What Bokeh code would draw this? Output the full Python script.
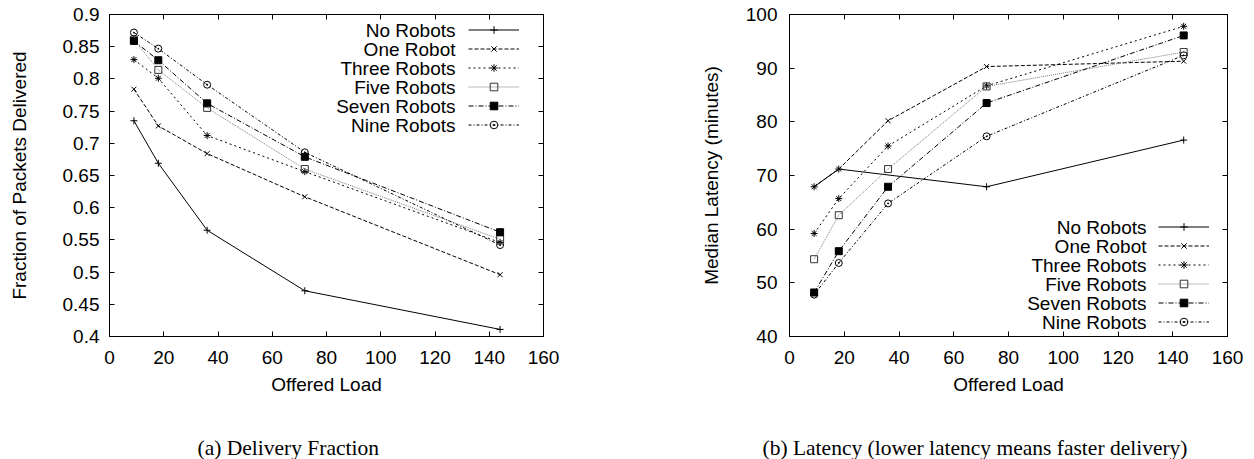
from bokeh.plotting import figure
from bokeh.layouts import row, column
from bokeh.models import (Range1d, LinearAxis, FixedTicker, CustomJSTickFormatter,
                          Legend, LegendItem, Label)
from bokeh.embed import file_html
from bokeh.resources import INLINE

# ---------------- data ----------------
offered_load = [9, 18, 36, 72, 144]
series_names = ["No Robots", "One Robot", "Three Robots", "Five Robots", "Seven Robots", "Nine Robots"]

# (a) delivery fraction
delivery_no_robots = [0.735, 0.669, 0.565, 0.471, 0.411]
delivery_one_robot = [0.784, 0.727, 0.684, 0.617, 0.496]
delivery_three_robots = [0.830, 0.801, 0.712, 0.656, 0.546]
delivery_five_robots = [0.861, 0.814, 0.755, 0.660, 0.551]
delivery_seven_robots = [0.859, 0.829, 0.762, 0.679, 0.562]
delivery_nine_robots = [0.872, 0.847, 0.791, 0.686, 0.542]

# (b) median latency (minutes)
latency_no_robots_load = [9, 18, 72, 144]
latency_no_robots = [67.9, 71.2, 67.9, 76.6]
latency_one_robot = [67.9, 71.2, 80.2, 90.3, 91.3]
latency_three_robots = [59.2, 65.7, 75.5, 86.7, 97.8]
latency_five_robots = [54.4, 62.6, 71.2, 86.6, 93.0]
latency_seven_robots = [48.2, 55.9, 67.9, 83.5, 96.1]
latency_nine_robots = [47.8, 53.7, 64.8, 77.3, 92.4]

x_ticks = [0, 20, 40, 60, 80, 100, 120, 140, 160]
delivery_ticks = [0.4, 0.45, 0.5, 0.55, 0.6, 0.65, 0.7, 0.75, 0.8, 0.85, 0.9]
latency_ticks = [40, 50, 60, 70, 80, 90, 100]

caption_a = "(a) Delivery Fraction"
caption_b = "(b) Latency (lower latency means faster delivery)"

# ---------------- styles ----------------
SANS = "Liberation Sans"
SERIF = "Liberation Serif"
FS = "19px"
MAIN_H = 406
CAP_H = 53

STYLES = [
    dict(color="black", dash="solid", marker="cross", fill=None, mcolor="black"),
    dict(color="black", dash="4 2", marker="x", fill=None, mcolor="black"),
    dict(color="black", dash="2 3", marker="asterisk", fill=None, mcolor="black"),
    dict(color="#7a7a7a", dash="1 1", marker="square", fill=None, mcolor="#333333"),
    dict(color="black", dash="5 2 1 2", marker="square", fill="black", mcolor="black"),
    dict(color="black", dash="3 2 1 2", marker="circle_dot", fill=None, mcolor="black"),
]


def style_axis(ax, standoff, label_standoff):
    ax.major_tick_in = 5
    ax.major_tick_out = 0
    ax.minor_tick_line_color = None
    ax.axis_line_color = "black"
    ax.major_tick_line_color = "black"
    ax.major_label_standoff = standoff
    ax.major_label_text_font = SANS
    ax.major_label_text_font_size = FS
    ax.major_label_text_color = "black"
    ax.axis_label_text_font = SANS
    ax.axis_label_text_font_size = FS
    ax.axis_label_text_font_style = "normal"
    ax.axis_label_text_color = "black"
    ax.axis_label_standoff = label_standoff


def make_panel(width, border_left, border_right, ylabel, y_range, y_ticks, y_formatter,
               xs_list, ys_list, legend_text_x, legend_top_y, legend_glyph_x,
               ytick_standoff, ylabel_standoff):
    p = figure(width=width, height=MAIN_H, output_backend="svg", toolbar_location=None,
               x_range=Range1d(0, 160), y_range=y_range,
               min_border_left=border_left, min_border_right=border_right,
               min_border_top=14, min_border_bottom=MAIN_H - 14 - 322,
               background_fill_color="white", border_fill_color="white",
               outline_line_color="black", outline_line_width=1)
    p.xgrid.grid_line_color = None
    p.ygrid.grid_line_color = None

    p.xaxis.ticker = FixedTicker(ticks=x_ticks)
    p.yaxis.ticker = FixedTicker(ticks=y_ticks)
    if y_formatter is not None:
        p.yaxis.formatter = y_formatter
    p.xaxis.axis_label = "Offered Load"
    p.yaxis.axis_label = ylabel
    style_axis(p.xaxis[0], 14, 7)
    style_axis(p.yaxis[0], ytick_standoff, ylabel_standoff)

    # mirrored ticks (no labels)
    blank = CustomJSTickFormatter(code="return '';")
    top = LinearAxis(ticker=FixedTicker(ticks=x_ticks), formatter=blank)
    right = LinearAxis(ticker=FixedTicker(ticks=y_ticks), formatter=blank)
    for ax in (top, right):
        style_axis(ax, 0, 0)
        ax.major_label_text_font_size = "1px"
    p.add_layout(top, "above")
    p.add_layout(right, "right")

    items = []
    for xs, ys, st in zip(xs_list, ys_list, STYLES):
        lr = p.line(xs, ys, line_color=st["color"], line_dash=st["dash"], line_width=1)
        sr = p.scatter(xs, ys, marker=st["marker"], size=7, line_color=st["mcolor"],
                       fill_color=st["fill"], line_width=1)
        items.append(LegendItem(label=" ", renderers=[lr, sr]))

    row_h = 19
    n = len(series_names)
    leg = Legend(items=items, location=(legend_glyph_x, legend_top_y - n * row_h),
                 orientation="vertical", glyph_width=51, glyph_height=row_h,
                 label_height=row_h, label_width=0, label_standoff=0, spacing=0,
                 padding=0, margin=0, border_line_color=None, background_fill_alpha=0,
                 label_text_font_size="1px")
    p.add_layout(leg, "center")

    for i, name in enumerate(series_names):
        p.add_layout(Label(x=legend_text_x, y=legend_top_y - (i + 0.5) * row_h,
                           x_units="screen", y_units="screen", text=name,
                           text_align="right", text_baseline="middle",
                           text_font=SANS, text_font_size=FS, text_color="black"))
    return p


def make_caption(width, text, x):
    c = figure(width=width, height=CAP_H, output_backend="svg", toolbar_location=None,
               x_axis_type=None, y_axis_type=None,
               min_border_left=0, min_border_right=0, min_border_top=0, min_border_bottom=0,
               outline_line_color=None, background_fill_color="white",
               border_fill_color="white")
    c.add_layout(Label(x=x, y=CAP_H - 41, x_units="screen", y_units="screen",
                       text=text, text_align="left", text_baseline="middle",
                       text_font=SERIF, text_font_size="21.5px", text_color="black"))
    return c


fmt = CustomJSTickFormatter(code="return String(Number(tick.toFixed(2)));")

p1 = make_panel(628, 109, 85, "Fraction of Packets Delivered", Range1d(0.4, 0.9),
                delivery_ticks, fmt,
                [offered_load] * 6,
                [delivery_no_robots, delivery_one_robot, delivery_three_robots,
                 delivery_five_robots, delivery_seven_robots, delivery_nine_robots],
                346, 316, 359, 10, 30)

p2 = make_panel(626, 161, 27, "Median Latency (minutes)", Range1d(40, 100),
                latency_ticks, None,
                [latency_no_robots_load] + [offered_load] * 5,
                [latency_no_robots, latency_one_robot, latency_three_robots,
                 latency_five_robots, latency_seven_robots, latency_nine_robots],
                357, 119, 369, 12, 21)

c1 = make_caption(628, caption_a, 197)
c2 = make_caption(626, caption_b, 134)

layout = column(row(p1, p2), row(c1, c2))
open("out.html", "w").write(file_html(layout, INLINE))
